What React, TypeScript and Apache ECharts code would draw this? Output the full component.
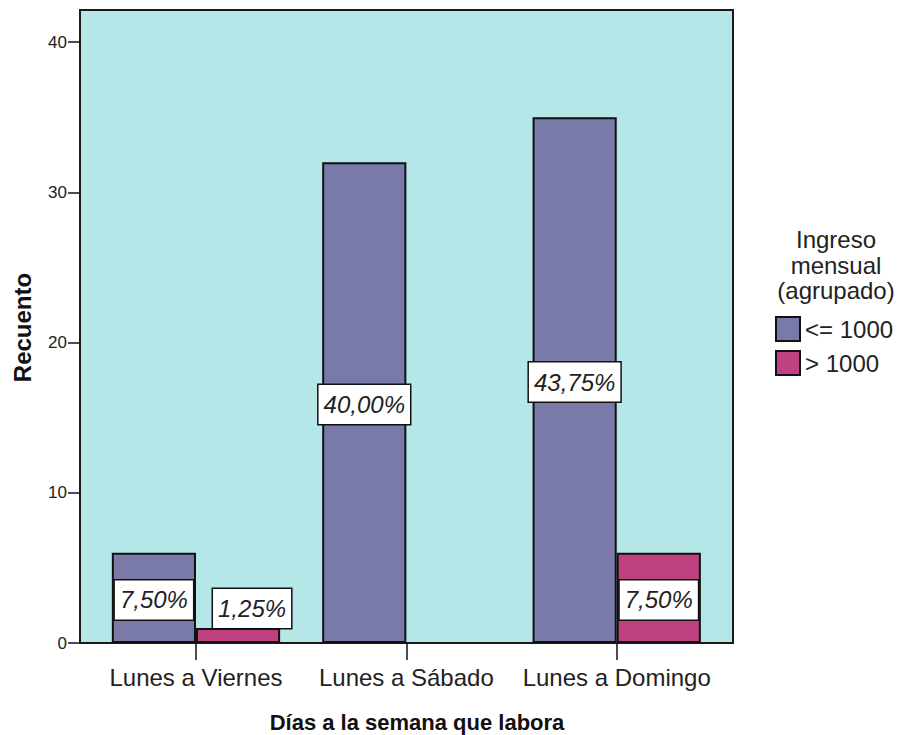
import React, { useEffect, useRef } from "react";
import * as echarts from "echarts";

const categories = ["Lunes a Viernes", "Lunes a Sábado", "Lunes a Domingo"];
const seriesNames = ["<= 1000", "> 1000"];
const lowIncome = [6, 32, 35];
const highIncome = [1, 0, 6];
const yTicks = [0, 10, 20, 30, 40];

const FONT = "'Liberation Sans', Arial, sans-serif";
const colors = ["#7a7aa8", "#c0417f"];

export default function App() {
  const ref = useRef<HTMLDivElement>(null);

  useEffect(() => {
    if (!ref.current) return;
    const chart = echarts.init(ref.current, undefined, { renderer: "svg" });
    const total = [...lowIncome, ...highIncome].reduce((a, b) => a + b, 0);
    const fmtPct = (v: number) => ((v / total) * 100).toFixed(2).replace(".", ",") + "%";

    const labelBase = {
      show: true,
      position: "inside",
      offset: [0, 2],
      backgroundColor: "#ffffff",
      borderColor: "#111",
      borderWidth: 1.5,
      padding: [8, 5, 7, 5],
      fontStyle: "italic",
      fontSize: 24,
      lineHeight: 24,
      color: "#222",
      fontFamily: FONT,
      formatter: (p: any) => fmtPct(p.value),
    };

    const buildData = (arr: number[]) =>
      arr.map((v) => {
        if (v === 0) return { value: "-", label: { show: false } };
        if (v < 3)
          return { value: v, label: { position: "top", distance: 0, offset: [14, 0] } };
        return { value: v };
      });

    const series = [lowIncome, highIncome].map((arr, i) => ({
      name: seriesNames[i],
      type: "bar",
      data: buildData(arr),
      barGap: "0%",
      barCategoryGap: "20%",
      itemStyle: {
        color: colors[i],
        borderColor: "#111",
        borderWidth: 2,
      },
      label: labelBase,
      z: 3,
    }));

    chart.setOption({
      animation: false,
      textStyle: { fontFamily: FONT },
      grid: { left: 90.8, right: 179.1, top: 10, bottom: 92, containLabel: false },
      xAxis: {
        type: "category",
        data: categories,
        axisLine: { show: false },
        axisTick: { show: true, alignWithLabel: true, length: 17, lineStyle: { color: "#111", width: 1.5 } },
        axisLabel: { fontSize: 24, color: "#222", margin: 22, interval: 0, fontFamily: FONT },
        splitLine: { show: false },
      },
      yAxis: {
        type: "value",
        min: 0,
        max: 42.13,
        interval: 10,
        offset: 10.8,
        axisLine: { show: false },
        axisTick: { show: true, length: 12, lineStyle: { color: "#111", width: 1.5 }, customValues: yTicks },
        axisLabel: {
          fontSize: 17,
          color: "#222",
          margin: 13,
          fontFamily: FONT,
          customValues: yTicks,
          formatter: (v: number) => (yTicks.includes(v) ? String(v) : ""),
        },
        splitLine: { show: false },
      },
      legend: {
        orient: "vertical",
        left: 775,
        top: 316,
        itemWidth: 24,
        itemHeight: 24,
        itemGap: 8,
        padding: 0,
        icon: "rect",
        data: seriesNames,
        textStyle: { fontSize: 24, color: "#222", fontFamily: FONT },
      },
      graphic: [
        {
          type: "rect",
          z: -10,
          shape: { x: 80, y: 10, width: 653, height: 633 },
          style: { fill: "#b5e6e8", stroke: "#1a1a1a", lineWidth: 2 },
        },
        {
          type: "text",
          x: 836,
          y: 265,
          style: {
            text: "Ingreso\nmensual\n(agrupado)",
            fontSize: 24,
            lineHeight: 25.5,
            fontFamily: FONT,
            fill: "#222",
            align: "center",
            verticalAlign: "middle",
          },
        },
        {
          type: "text",
          x: 417,
          y: 722,
          style: {
            text: "Días a la semana que labora",
            fontSize: 22,
            fontWeight: "bold",
            fontFamily: FONT,
            fill: "#111",
            align: "center",
            verticalAlign: "middle",
          },
        },
        {
          type: "text",
          x: 22.5,
          y: 327.5,
          rotation: Math.PI / 2,
          style: {
            text: "Recuento",
            fontSize: 24,
            fontWeight: "bold",
            fontFamily: FONT,
            fill: "#111",
            align: "center",
            verticalAlign: "middle",
          },
        },
      ],
      series,
    });

    return () => chart.dispose();
  }, []);

  return (
    <div
      ref={ref}
      style={{ position: "fixed", left: 0, top: 0, width: 901, height: 735, background: "#fff" }}
    />
  );
}
